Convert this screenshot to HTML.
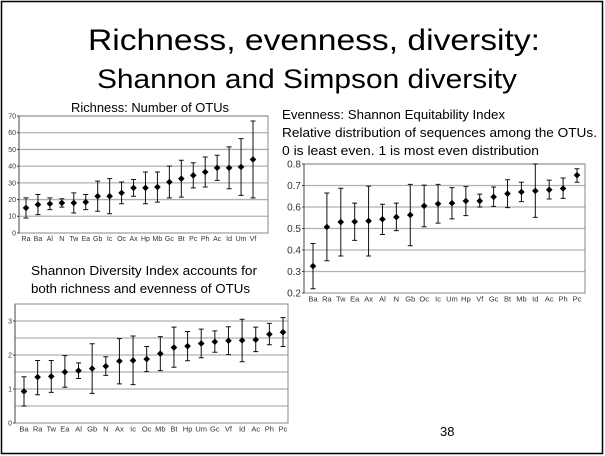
<!DOCTYPE html>
<html><head><meta charset="utf-8"><style>
html,body{margin:0;padding:0;background:#fff;}
svg{display:block;font-family:"Liberation Sans",sans-serif;}
</style></head><body>
<svg id="s" width="605" height="456" viewBox="0 0 605 456">
<rect x="1.5" y="1.5" width="601" height="452" fill="#fff" stroke="#000" stroke-width="1.5"/>
<text x="314" y="50" font-size="30" text-anchor="middle" textLength="452" lengthAdjust="spacingAndGlyphs">Richness, evenness, diversity:</text>
<text x="307" y="88" font-size="27" text-anchor="middle" textLength="420" lengthAdjust="spacingAndGlyphs">Shannon and Simpson diversity</text>
<text x="150" y="112" font-size="12.5" text-anchor="middle" textLength="158" lengthAdjust="spacingAndGlyphs">Richness: Number of OTUs</text>
<text x="282" y="119" font-size="12.5" textLength="223" lengthAdjust="spacingAndGlyphs">Evenness: Shannon Equitability Index</text>
<text x="282" y="137" font-size="12.5" textLength="315" lengthAdjust="spacingAndGlyphs">Relative distribution of  sequences among the OTUs.</text>
<text x="282" y="155" font-size="12.5" textLength="257" lengthAdjust="spacingAndGlyphs">0 is least even.  1 is most even distribution</text>
<text x="31" y="275" font-size="12.5" textLength="226" lengthAdjust="spacingAndGlyphs">Shannon Diversity Index accounts for</text>
<text x="31" y="293" font-size="12.5" textLength="219" lengthAdjust="spacingAndGlyphs">both richness and evenness of OTUs</text>
<text x="440" y="436" font-size="13">38</text>
<g id="g1"></g>
<g id="g2"></g>
<g id="g3"></g>
</svg>
<script>
const richCats=["Ra","Ba","Al","N","Tw","Ea","Gb","Ic","Oc","Ax","Hp","Mb","Gc","Bt","Pc","Ph","Ac","Id","Um","Vf"];
const richVals=[15,17,17.5,18,18,18.5,22,22,24,27,27,27.5,30.5,32.5,34.5,36.5,39,39,39.5,44];
const richLo=[9,11,14,15.5,12,14,13,11.5,17.5,22,17.5,18.5,21,21.5,27,27.5,31.5,26.5,22.5,21];
const richHi=[21,23,21,20.5,24,23,31,32.5,30.5,32,36.5,36.5,40,43.5,42,45.5,46.5,51.5,56.5,67];
const richTicks=[0,10,20,30,40,50,60,70];

const evenCats=["Ba","Ra","Tw","Ea","Ax","Al","N","Gb","Oc","Ic","Um","Hp","Vf","Gc","Bt","Mb","Id","Ac","Ph","Pc"];
const evenVals=[0.325,0.507,0.53,0.532,0.535,0.543,0.553,0.563,0.605,0.615,0.618,0.628,0.628,0.647,0.662,0.67,0.675,0.68,0.686,0.748];
const evenLo=[0.22,0.35,0.372,0.445,0.372,0.472,0.49,0.42,0.508,0.525,0.545,0.56,0.6,0.603,0.597,0.625,0.552,0.637,0.64,0.715];
const evenHi=[0.43,0.665,0.687,0.618,0.697,0.613,0.618,0.705,0.702,0.705,0.69,0.695,0.66,0.693,0.727,0.715,0.8,0.725,0.735,0.778];
const evenTicks=[0.2,0.3,0.4,0.5,0.6,0.7,0.8];

const shCats=["Ba","Ra","Tw","Ea","Al","Gb","N","Ax","Ic","Oc","Mb","Bt","Hp","Um","Gc","Vf","Id","Ac","Ph","Pc"];
const shVals=[0.93,1.35,1.37,1.5,1.54,1.6,1.67,1.82,1.84,1.88,2.04,2.22,2.26,2.34,2.39,2.42,2.43,2.45,2.61,2.67];
const shLo=[0.5,0.83,0.9,1.05,1.31,0.87,1.4,1.15,1.13,1.51,1.54,1.64,1.83,1.92,2.08,2.01,1.8,2.1,2.3,2.25];
const shHi=[1.36,1.84,1.84,1.98,1.77,2.33,1.95,2.48,2.56,2.25,2.54,2.82,2.69,2.76,2.71,2.83,3.05,2.82,2.93,3.1];
const shTicks=[0,1,2,3];
const shGrid=[0.5,1,1.5,2,2.5,3];

const NS="http://www.w3.org/2000/svg";
function mk(p,tag,a){const e=document.createElementNS(NS,tag);for(const k in a)e.setAttribute(k,a[k]);p.appendChild(e);return e;}

function chart(g,o,cats,vals,lo,hi,ticks,grid,fmt,key){
  const ys=v=>o.y0+(v-o.vmin)/(o.vmax-o.vmin)*(o.y1-o.y0);
  const xs=i=>o.c0+i*(o.c1-o.c0)/(cats.length-1);
  for(const v of grid){
    const l=mk(g,'line',{x1:o.left,x2:o.right,y1:ys(v),y2:ys(v),stroke:'#b0b0b0','stroke-width':1.3});
    
    
  }
  const fr=mk(g,'rect',{x:o.left,y:o.top,width:o.right-o.left,height:o.y0-o.top,fill:'none',stroke:'#888','stroke-width':1});
  
  
  const ax=mk(g,'line',{x1:o.left,x2:o.left,y1:o.top,y2:o.y0,stroke:'#444','stroke-width':1});
  
  
  for(const v of ticks){
    const t=mk(g,'text',{x:o.left-3,y:ys(v)+o.tf*0.35,'font-size':o.tf,'text-anchor':'end',fill:'#333'});
    t.textContent=fmt(v);
    
    
    mk(g,'line',{x1:o.left-2,x2:o.left,y1:ys(v),y2:ys(v),stroke:'#444'});
  }
  cats.forEach((c,i)=>{
    const x=xs(i);
    const t=mk(g,'text',{x:x,y:o.y0+o.lf+1,'font-size':o.lf,'text-anchor':'middle',fill:'#333'});
    t.textContent=c;
    
    
    const eb=mk(g,'path',{d:`M${x},${ys(lo[i])}V${ys(hi[i])}M${x-2.5},${ys(lo[i])}H${x+2.5}M${x-2.5},${ys(hi[i])}H${x+2.5}`,stroke:'#111','stroke-width':1,fill:'none'});
    
    
    const y=ys(vals[i]),r=3.3;
    const pt=mk(g,'path',{d:`M${x},${y-r}L${x+r},${y}L${x},${y+r}L${x-r},${y}Z`,fill:'#000'});
    
    
  });
}
chart(document.getElementById('g1'),{left:19,right:268,top:116,y0:233,y1:116,vmin:0,vmax:70,c0:26,c1:253,tf:7,lf:7},
  richCats,richVals,richLo,richHi,richTicks,richTicks.slice(1),v=>v,'richness');
chart(document.getElementById('g2'),{left:304,right:585,top:164,y0:293,y1:164,vmin:0.2,vmax:0.8,c0:313,c1:577,tf:10,lf:7.5},
  evenCats,evenVals,evenLo,evenHi,evenTicks,evenTicks.slice(1),v=>v.toFixed(1),'evenness');
chart(document.getElementById('g3'),{left:15,right:288,top:304,y0:423,y1:321,vmin:0,vmax:3,c0:24,c1:283,tf:7,lf:7.5},
  shCats,shVals,shLo,shHi,shTicks,shGrid,v=>v,'shannon');
</script>
</body></html>
